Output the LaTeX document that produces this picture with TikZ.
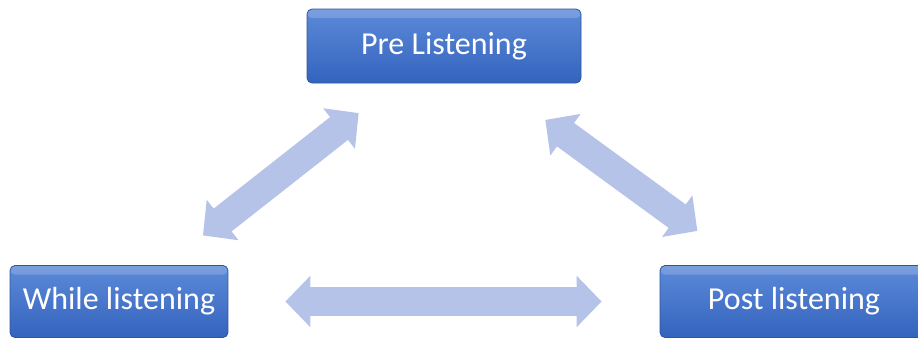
\documentclass[tikz,border=0pt]{standalone}
\usepackage{fontspec}
\setmainfont{Carlito}
\usetikzlibrary{arrows.meta}

\definecolor{boxtop}{RGB}{92,138,216}
\definecolor{boxbottom}{RGB}{52,99,190}
\definecolor{boxedge}{RGB}{47,85,151}
\definecolor{arrowfill}{RGB}{182,195,232}

\def\boxheight{72pt}

\begin{document}
\begin{tikzpicture}[x=1pt,y=-1pt,
% Here are defined the blue buttons and the pale double arrows
bloc/.style={
rectangle, rounded corners=5pt,
draw=boxedge, thick, inner sep=0,
top color=boxtop, bottom color=boxbottom,
text=white, font=\fontsize{32}{38}\selectfont,
minimum height=\boxheight,
path picture={\fill[white,opacity=0.18] (path picture bounding box.north west) rectangle ([yshift=-9pt]path picture bounding box.north east);} },
bloc1/.style={
bloc,
minimum width=274pt, minimum height=74pt },
bloc2/.style={
bloc,
minimum width=218pt },
bloc3/.style={
bloc,
minimum width=268pt },
link/.style={
draw=arrowfill, line width=29pt,
{Triangle[width=50pt,length=25pt]}-{Triangle[width=50pt,length=25pt]} },
]
\useasboundingbox (0,0) rectangle (918,338);

%%% The 3 buttons
\node[bloc1] (pre) at (444,46) {Pre Listening};
\node[bloc2] (while) at (119,301.5) {While listening};
\node[bloc3] (post) at (794,301.5) {Post listening};

%%% The 3 arrows between them
\draw[link, shorten <=48pt, shorten >=48pt] (pre) -- (while);
\draw[link, shorten <=62pt, shorten >=58pt] (pre) -- (post);
\draw[link, shorten <=57pt, shorten >=58pt] (while) -- (post);

\end{tikzpicture}
\end{document}
